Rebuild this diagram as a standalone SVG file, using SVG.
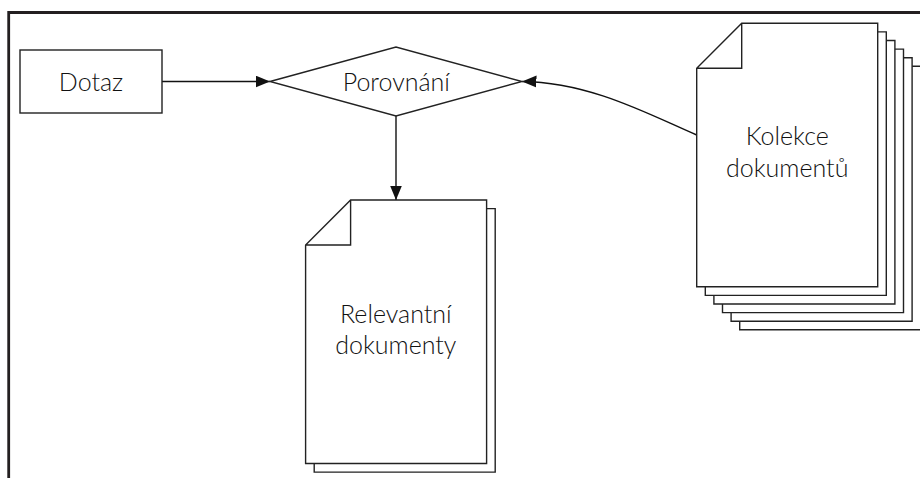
<svg xmlns="http://www.w3.org/2000/svg" width="920" height="478" viewBox="0 0 920 478">
  <style>
    .shape { fill: #ffffff; stroke: #222222; stroke-width: 1.4; }
    .edge { fill: none; stroke: #111111; stroke-width: 1.4; }
    .label { font-family: Lato, "Noto Sans", "DejaVu Sans", sans-serif; font-size: 25px; font-weight: 300; fill: #111111; text-anchor: middle; }
  </style>
  <defs>
    <marker id="arrow" markerUnits="userSpaceOnUse" markerWidth="16" markerHeight="14" refX="14.5" refY="6" orient="auto">
      <path d="M0,0 L14.5,6 L0,12 Z" fill="#111111"/>
    </marker>
    <!-- single sheet with folded top-left corner, origin at its top-left -->
    <path id="sheet" d="M45,0 H181 V263.5 H0 V45 Z M45,0 V45 H0"/>
  </defs>

  <!-- page frame -->
  <path d="M8.7,478 V12.5 H920" fill="none" stroke="#231f20" stroke-width="2.8"/>

  <g id="connectors">
    <path class="edge" d="M162,81.5 H270" marker-end="url(#arrow)"/>
    <path class="edge" d="M396,116 V200" marker-end="url(#arrow)"/>
    <path class="edge" d="M696.7,135 C650,115 590,82 522,81.5" marker-end="url(#arrow)"/>
  </g>

  <g id="dotaz">
    <rect class="shape" x="20" y="50" width="142" height="63"/>
    <text class="label" x="91" y="90.5">Dotaz</text>
  </g>

  <g id="porovnani">
    <polygon class="shape" points="270,81.5 396,47 522,81.5 396,116"/>
    <text class="label" x="396.3" y="91">Porovnání</text>
  </g>

  <g id="relevantni">
    <use href="#sheet" class="shape" x="314.2" y="208.6"/>
    <use href="#sheet" class="shape" x="305.6" y="200"/>
    <text class="label" x="395.8" y="322.7">Relevantní</text>
    <text class="label" x="395.8" y="354.3">dokumenty</text>
  </g>

  <g id="kolekce">
    <use href="#sheet" class="shape" x="739.7" y="66.3"/>
    <use href="#sheet" class="shape" x="731.1" y="57.7"/>
    <use href="#sheet" class="shape" x="722.5" y="49.1"/>
    <use href="#sheet" class="shape" x="713.9" y="40.5"/>
    <use href="#sheet" class="shape" x="705.3" y="31.9"/>
    <use href="#sheet" class="shape" x="696.7" y="23.3"/>
    <text class="label" x="787.2" y="145">Kolekce</text>
    <text class="label" x="787.2" y="176.7">dokumentů</text>
  </g>
</svg>
